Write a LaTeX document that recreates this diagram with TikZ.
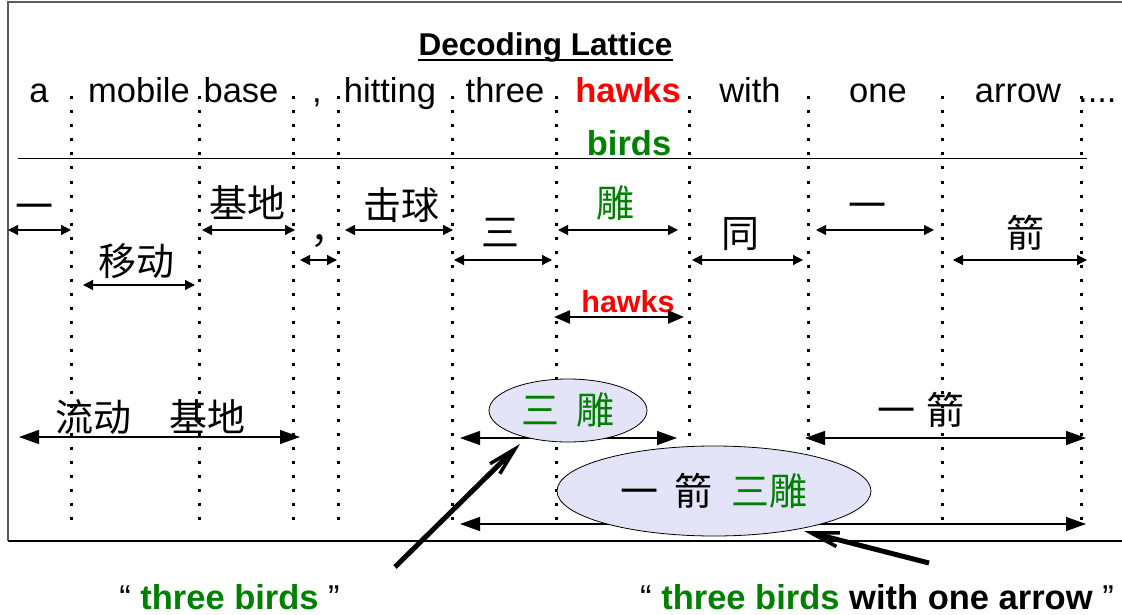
\documentclass[tikz,border=0pt]{standalone}
\usepackage{fontspec}
\setmainfont{Liberation Sans}
\newfontfamily\cjk{Noto Sans CJK SC}
\usetikzlibrary{arrows.meta,shapes.geometric}
\definecolor{wgreen}{RGB}{0,128,0}
\definecolor{wred}{RGB}{255,0,0}
\definecolor{lav}{RGB}{228,228,248}
\definecolor{framegray}{RGB}{90,90,90}

\begin{document}
\begin{tikzpicture}[x=1pt,y=-1pt,
  word/.style={inner sep=0pt,anchor=base,font=\fontsize{34.5}{40}\selectfont},
  hanzi/.style={inner sep=0pt,font=\cjk\fontsize{38}{44}\selectfont},
  divider/.style={line width=3pt,dash pattern=on 3pt off 11pt},
  lspan/.style={{Triangle[length=10pt,width=10pt]}-{Triangle[length=10pt,width=10pt]},line width=1.2pt},
  bspan/.style={{Triangle[length=20pt,width=14pt]}-{Triangle[length=20pt,width=14pt]},line width=1.3pt},
  hspan/.style={{Triangle[length=16pt,width=13pt]}-{Triangle[length=16pt,width=13pt]},line width=2.4pt},
  pointer/.style={-{Straight Barb[length=28pt,width=14pt,line width=3.5pt]},line width=5pt},
  bubble/.style={ellipse,draw,fill=lav,inner sep=0pt,line width=0.8pt}
]
\useasboundingbox (0,0) rectangle (1122,615);

% frame (open on the right)
\draw[framegray,line width=2pt] (1122,2) -- (8,2) -- (8,541);
\draw[line width=1.3pt] (8,541) -- (1122,541);

% title
\node[inner sep=0pt,anchor=base,font=\fontsize{31.5}{36}\selectfont\bfseries] (title) at (545.5,56) {Decoding Lattice};
\draw[line width=2pt] ([yshift=-4pt]title.base west) -- ([yshift=-4pt]title.base east);

% word separators
\foreach \x in {71,199,293,338,452,556,689,808,942,1081}
  \draw[divider] (\x,96.5) -- (\x,528);

% English words
\node[word] (wa) at (39,102.5) {a};
\node[word] (wmobile) at (139,102.5) {mobile};
\node[word] (wbase) at (241,102.5) {base};
\node[word] (wcomma) at (317,102.5) {,};
\node[word] (whitting) at (390,102.5) {hitting};
\node[word] (wthree) at (505,102.5) {three};
\node[word,font=\fontsize{34.5}{40}\selectfont\bfseries,text=wred] (whawks) at (628,102.5) {hawks};
\node[word] (wwith) at (750,102.5) {with};
\node[word] (wone) at (878,102.5) {one};
\node[word] (warrow) at (1018,102.5) {arrow};
\node[word,anchor=base west] (wdots) at (1078,102.5) {....};
\node[word,font=\fontsize{34.5}{40}\selectfont\bfseries,text=wgreen] (wbirds) at (629,156) {birds};

% rule between the two languages
\draw[line width=1pt] (18,159) -- (1087,159);

% single-segment Chinese words
\node[hanzi] (c1) at (35,212) {一};
\node[hanzi] (c2) at (136,261) {移动};
\node[hanzi] (c3) at (247,203) {基地};
\node[hanzi] (c4) at (329,241) {，};
\node[hanzi] (c5) at (401,205) {击球};
\node[hanzi] (c6) at (500,233) {三};
\node[hanzi,text=wgreen] (c7) at (615,203) {雕};
\node[hanzi] (c8) at (740,234) {同};
\node[hanzi] (c9) at (867,211) {一};
\node[hanzi] (c10) at (1025,233) {箭};
\node[inner sep=0pt,anchor=base,font=\fontsize{30.5}{34}\selectfont\bfseries,text=wred] (hk) at (628,312) {hawks};

% spans of the single segments
\path (8,230) coordinate (s1a) (71,230) coordinate (s1b)
      (83,285) coordinate (s2a) (195,285) coordinate (s2b)
      (202,230) coordinate (s3a) (295,230) coordinate (s3b)
      (300,260) coordinate (s4a) (337,260) coordinate (s4b)
      (345,230) coordinate (s5a) (453,230) coordinate (s5b)
      (454,260) coordinate (s6a) (552,260) coordinate (s6b)
      (558,230) coordinate (s7a) (678,230) coordinate (s7b)
      (692,260) coordinate (s8a) (803,260) coordinate (s8b)
      (816,230) coordinate (s9a) (934,230) coordinate (s9b)
      (953,260) coordinate (s10a) (1087,260) coordinate (s10b)
      (554,317) coordinate (hka) (684,317) coordinate (hkb);
\foreach \i in {1,...,10}
  \draw[lspan] (s\i a) -- (s\i b);
\draw[hspan] (hka) -- (hkb);

% multi-segment phrases
\path (19,437) coordinate (p1a) (300,437) coordinate (p1b)
      (460,438) coordinate (p2a) (677,438) coordinate (p2b)
      (805,438) coordinate (p3a) (1086,438) coordinate (p3b)
      (460,524) coordinate (p4a) (1086,524) coordinate (p4b);
\draw[bspan] (p1a) -- (p1b);
\draw[bspan] (p2a) -- (p2b);
\draw[bspan] (p3a) -- (p3b);
\draw[bspan] (p4a) -- (p4b);

\node[hanzi] (ph1) at (150,417) {流动　基地};
\node[hanzi] (ph3) at (921,410) {一\hspace{12pt}箭};

\node[bubble,minimum width=158pt,minimum height=63pt,font=\cjk\fontsize{38}{44}\selectfont,text=wgreen] (ell1) at (568,410.5) {\raisebox{-4pt}{三\hspace{17pt}雕}};
\node[bubble,minimum width=314pt,minimum height=90pt,font=\cjk\fontsize{38}{44}\selectfont] (ell2) at (714,491) {一\hspace{16pt}箭\hspace{19pt}\textcolor{wgreen}{三雕}};

% translations pointing at the phrases
\node[inner sep=0pt,anchor=base,font=\fontsize{34.5}{40}\selectfont] (lab1) at (229.5,609) {“ \textcolor{wgreen}{\bfseries three birds} ”};
\node[inner sep=0pt,anchor=base,font=\fontsize{34.5}{40}\selectfont] (lab2) at (877,609) {“ \textcolor{wgreen}{\bfseries three birds} \textbf{with one arrow} ”};
\path (395,567) coordinate (t1a) (520,444) coordinate (t1b)
      (929,563) coordinate (t2a) (804,531) coordinate (t2b);
\draw[pointer] (t1a) -- (t1b);
\draw[pointer] (t2a) -- (t2b);
\end{tikzpicture}
\end{document}
